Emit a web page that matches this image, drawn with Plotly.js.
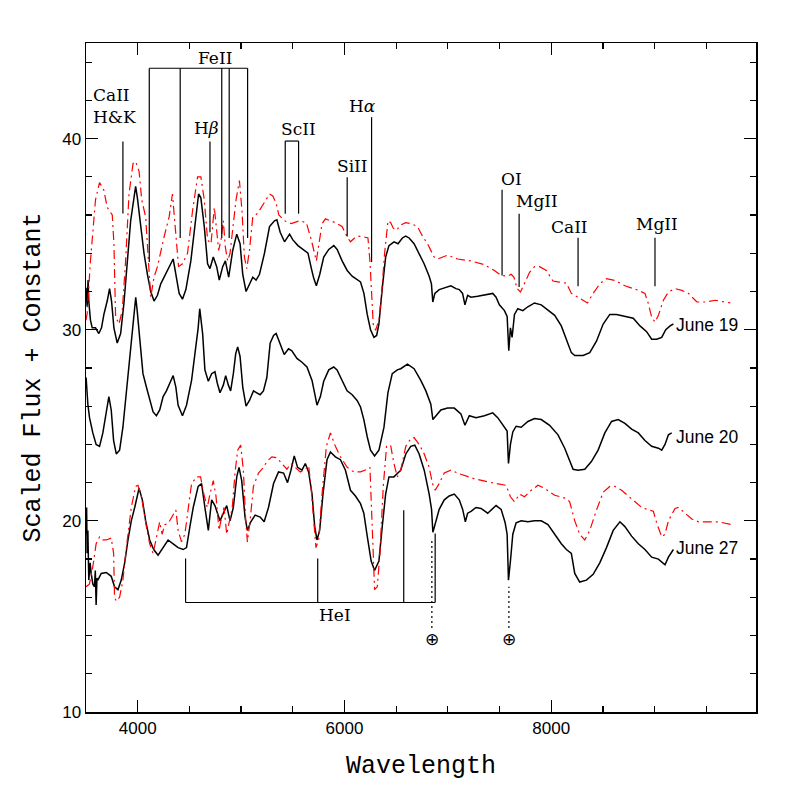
<!DOCTYPE html>
<html>
<head>
<meta charset="utf-8">
<script src="https://cdn.plot.ly/plotly-3.0.1.min.js"></script>
<style>
  html, body { margin: 0; padding: 0; background: #fff; }
  #chart { width: 797px; height: 797px; }
</style>
</head>
<body>
<div id="chart"></div>
<script>
// ---- spectra (wavelength, scaled flux + constant) ----
const june19Wave = [3500, 3511, 3520, 3527, 3543, 3560, 3592, 3624, 3650, 3673, 3705, 3728, 3747, 3770, 3802, 3835, 3867, 3899, 3932, 3964, 3980, 3997, 4029, 4061, 4094, 4126, 4158, 4191, 4223, 4272, 4320, 4343, 4369, 4401, 4433, 4466, 4514, 4556, 4589, 4611, 4644, 4676, 4699, 4731, 4764, 4789, 4822, 4848, 4880, 4919, 4958, 4990, 5016, 5048, 5081, 5113, 5145, 5178, 5226, 5275, 5323, 5346, 5378, 5420, 5469, 5501, 5550, 5598, 5647, 5680, 5702, 5728, 5761, 5799, 5848, 5897, 5929, 5977, 6026, 6074, 6123, 6155, 6188, 6220, 6252, 6285, 6311, 6333, 6366, 6398, 6430, 6479, 6518, 6560, 6592, 6625, 6673, 6722, 6770, 6819, 6841, 6854, 6874, 6916, 6964, 7029, 7078, 7110, 7142, 7165, 7191, 7223, 7288, 7353, 7434, 7466, 7498, 7547, 7573, 7589, 7605, 7621, 7644, 7676, 7725, 7773, 7838, 7903, 7968, 8033, 8097, 8146, 8194, 8227, 8308, 8372, 8437, 8502, 8566, 8631, 8712, 8793, 8858, 8922, 8971, 9019, 9068, 9107, 9149, 9181];
const june19Flux = [32.2, 31.2, 32.6, 31.5, 30.5, 30.1, 30.1, 29.8, 30.1, 30.8, 31.5, 32.15, 31.5, 30.1, 29.3, 29.8, 31.4, 33.6, 35.7, 36.9, 37.5, 36.9, 35.4, 34.0, 32.9, 32.0, 31.5, 31.8, 32.4, 32.9, 33.45, 33.7, 32.9, 31.9, 31.6, 32.1, 33.6, 35.7, 37.1, 36.9, 35.4, 33.45, 33.2, 33.8, 33.3, 32.6, 33.3, 33.6, 32.75, 34.15, 35.0, 34.5, 32.9, 32.0, 32.4, 32.75, 32.6, 32.9, 34.0, 35.4, 35.7, 35.75, 35.1, 34.6, 35.0, 34.7, 34.4, 34.2, 34.0, 33.2, 32.7, 32.3, 32.9, 33.8, 34.2, 34.4, 34.2, 33.6, 33.1, 32.8, 32.6, 32.5, 31.9, 30.8, 30.0, 29.6, 29.7, 30.3, 32.2, 33.8, 34.4, 34.6, 34.5, 34.8, 34.9, 34.8, 34.5, 34.0, 33.45, 32.8, 32.4, 31.45, 31.9, 32.1, 32.2, 32.3, 32.15, 32.1, 31.9, 31.3, 31.8, 31.7, 31.75, 31.8, 31.9, 31.7, 31.3, 31.0, 30.7, 28.9, 30.1, 29.6, 30.8, 31.1, 31.0, 31.2, 31.4, 31.3, 31.0, 30.75, 30.2, 29.45, 28.8, 28.65, 28.65, 28.8, 29.4, 30.3, 30.8, 30.8, 30.7, 30.6, 30.2, 29.9, 29.5, 29.5, 29.6, 30.0, 30.2, 30.3];

const june20Wave = [3501, 3518, 3534, 3566, 3598, 3631, 3663, 3696, 3721, 3744, 3767, 3793, 3825, 3857, 3890, 3922, 3954, 3970, 3981, 3995, 4013, 4030, 4051, 4084, 4116, 4149, 4181, 4213, 4246, 4278, 4310, 4343, 4369, 4391, 4433, 4472, 4521, 4553, 4585, 4600, 4628, 4650, 4683, 4715, 4747, 4770, 4796, 4828, 4851, 4877, 4899, 4925, 4948, 4967, 4990, 5016, 5048, 5081, 5120, 5152, 5184, 5216, 5249, 5281, 5314, 5339, 5378, 5417, 5459, 5491, 5540, 5589, 5637, 5686, 5718, 5734, 5767, 5799, 5848, 5896, 5928, 5977, 6025, 6074, 6122, 6155, 6187, 6220, 6252, 6291, 6333, 6382, 6420, 6462, 6511, 6544, 6609, 6673, 6738, 6787, 6835, 6855, 6884, 6932, 6997, 7062, 7126, 7165, 7207, 7272, 7353, 7434, 7482, 7531, 7573, 7586, 7605, 7628, 7660, 7709, 7774, 7838, 7903, 7984, 8065, 8130, 8178, 8211, 8259, 8324, 8388, 8453, 8518, 8583, 8647, 8712, 8777, 8842, 8906, 8971, 9036, 9068, 9100, 9133, 9165];
const june20Flux = [27.5, 26.1, 25.4, 24.6, 24.0, 23.9, 24.6, 25.8, 26.5, 25.8, 24.2, 23.5, 23.7, 24.9, 26.7, 28.75, 30.3, 31.3, 31.7, 31.0, 30.0, 28.8, 27.7, 27.0, 26.3, 25.7, 25.5, 25.8, 26.5, 26.8, 27.2, 27.6, 27.0, 26.05, 25.5, 26.05, 27.35, 28.75, 30.1, 31.1, 29.8, 27.9, 27.3, 27.7, 27.8, 27.2, 26.7, 27.1, 27.6, 27.1, 26.8, 27.7, 28.75, 29.1, 28.6, 27.0, 26.0, 26.3, 26.8, 26.7, 26.6, 26.8, 27.5, 29.3, 29.7, 29.8, 29.2, 28.7, 29.0, 28.9, 28.5, 28.3, 28.05, 27.35, 26.5, 26.05, 26.5, 27.3, 27.9, 28.05, 27.9, 27.3, 26.8, 26.6, 26.3, 25.96, 25.3, 24.4, 23.7, 23.4, 23.7, 24.9, 26.7, 27.7, 27.9, 27.96, 28.2, 27.96, 27.35, 26.8, 26.1, 25.3, 25.5, 25.8, 25.9, 25.9, 25.6, 25.0, 25.5, 25.4, 25.5, 25.65, 25.4, 25.0, 24.7, 23.0, 24.0, 24.65, 24.95, 24.9, 25.2, 25.35, 25.3, 25.0, 24.5, 23.8, 23.2, 22.7, 22.65, 22.7, 23.1, 23.7, 24.6, 25.2, 25.3, 25.1, 24.8, 24.6, 24.2, 23.9, 23.8, 23.7, 24.0, 24.5, 24.6];

const june27Wave = [3501, 3506, 3511, 3518, 3527, 3540, 3550, 3566, 3582, 3590, 3598, 3606, 3615, 3647, 3696, 3744, 3776, 3809, 3841, 3874, 3906, 3938, 3971, 4013, 4045, 4077, 4116, 4155, 4197, 4246, 4294, 4343, 4391, 4440, 4472, 4505, 4537, 4585, 4618, 4650, 4683, 4715, 4747, 4796, 4828, 4861, 4893, 4925, 4958, 4980, 5006, 5038, 5061, 5094, 5136, 5184, 5223, 5265, 5314, 5362, 5411, 5449, 5482, 5514, 5546, 5589, 5621, 5653, 5686, 5712, 5734, 5760, 5792, 5831, 5864, 5912, 5961, 6009, 6058, 6106, 6155, 6187, 6220, 6258, 6291, 6333, 6365, 6398, 6430, 6478, 6544, 6593, 6641, 6680, 6722, 6771, 6819, 6842, 6855, 6884, 6916, 6965, 7013, 7062, 7110, 7143, 7169, 7191, 7224, 7272, 7321, 7385, 7466, 7515, 7554, 7573, 7586, 7605, 7628, 7660, 7709, 7774, 7838, 7903, 7968, 8033, 8097, 8146, 8194, 8227, 8275, 8340, 8405, 8469, 8534, 8599, 8664, 8712, 8777, 8842, 8906, 8971, 9036, 9100, 9133, 9181];
const june27Flux = [19.3, 20.7, 18.3, 19.5, 16.9, 17.8, 17.25, 16.7, 16.55, 17.4, 15.6, 17.0, 16.9, 17.25, 17.3, 17.1, 16.55, 16.4, 16.9, 17.8, 19.0, 20.0, 20.7, 21.7, 21.1, 20.0, 19.0, 18.5, 18.2, 18.6, 19.0, 18.8, 18.6, 18.5, 18.6, 19.7, 20.7, 21.8, 21.95, 20.7, 19.5, 21.1, 20.8, 20.0, 20.4, 20.8, 20.0, 20.7, 22.3, 22.8, 22.1, 20.2, 19.5, 19.95, 20.3, 20.2, 19.95, 20.7, 21.95, 22.56, 22.5, 22.0, 22.65, 23.4, 22.8, 22.65, 23.0, 22.56, 21.4, 19.7, 19.0, 19.5, 21.4, 23.2, 23.6, 23.35, 23.2, 22.65, 21.6, 21.3, 20.9, 20.4, 19.2, 17.9, 17.4, 17.9, 19.7, 21.4, 22.3, 22.3, 22.65, 23.5, 23.9, 23.96, 23.5, 22.65, 21.4, 20.6, 19.4, 20.0, 20.6, 21.1, 21.3, 21.4, 21.1, 20.6, 19.95, 20.4, 20.5, 20.7, 20.65, 20.4, 20.8, 20.6, 19.9, 19.3, 16.9, 17.9, 19.3, 19.9, 20.0, 19.95, 20.0, 20.0, 19.8, 19.3, 18.8, 18.5, 18.3, 17.25, 16.8, 16.9, 17.2, 17.8, 18.6, 19.5, 19.95, 19.7, 19.2, 18.8, 18.5, 18.1, 18.0, 17.7, 18.1, 18.5];

// ---- model spectra (red dash-dot) ----
const model19Wave = [3500, 3511, 3543, 3592, 3631, 3673, 3705, 3754, 3770, 3786, 3819, 3851, 3883, 3916, 3955, 3980, 4013, 4039, 4077, 4103, 4126, 4158, 4191, 4255, 4304, 4336, 4362, 4395, 4433, 4482, 4530, 4579, 4611, 4644, 4676, 4709, 4741, 4757, 4783, 4806, 4828, 4848, 4870, 4893, 4919, 4951, 4984, 5009, 5032, 5055, 5081, 5113, 5162, 5210, 5275, 5307, 5340, 5365, 5420, 5485, 5566, 5631, 5679, 5728, 5751, 5783, 5816, 5913, 5977, 6026, 6058, 6107, 6155, 6227, 6246, 6259, 6278, 6301, 6333, 6359, 6388, 6421, 6447, 6473, 6505, 6537, 6592, 6641, 6706, 6754, 6803, 6867, 6900, 6997, 7094, 7223, 7353, 7450, 7515, 7579, 7612, 7638, 7670, 7702, 7741, 7790, 7838, 7887, 7952, 8016, 8065, 8146, 8194, 8259, 8308, 8350, 8405, 8469, 8534, 8615, 8712, 8842, 8906, 8939, 8971, 9003, 9036, 9084, 9133, 9197, 9262, 9327, 9408, 9489, 9586, 9731];
const model19Flux = [30.5, 30.84, 33.6, 36.8, 37.7, 37.3, 36.4, 36.0, 34.5, 30.7, 30.3, 31.0, 33.6, 37.1, 38.7, 38.8, 38.3, 36.8, 35.9, 33.6, 31.7, 32.75, 33.3, 34.85, 35.9, 37.1, 35.4, 33.3, 33.45, 34.0, 36.2, 38.0, 38.0, 36.8, 34.7, 34.5, 36.4, 35.4, 34.15, 34.7, 35.7, 34.3, 33.6, 34.0, 35.2, 36.8, 37.8, 36.2, 33.8, 33.2, 34.15, 35.9, 36.1, 36.5, 37.1, 37.0, 36.6, 36.0, 35.7, 35.55, 35.7, 35.6, 34.7, 33.6, 34.5, 35.55, 35.8, 35.6, 35.4, 34.85, 34.6, 34.85, 34.9, 34.8, 33.6, 31.9, 30.3, 29.97, 30.5, 31.9, 34.0, 35.7, 35.6, 35.3, 35.2, 35.46, 35.6, 35.55, 35.4, 34.9, 34.5, 33.8, 33.7, 33.9, 33.7, 33.6, 33.4, 33.1, 32.84, 32.8, 32.9, 32.76, 32.15, 31.97, 32.4, 33.0, 33.3, 33.3, 33.1, 32.55, 32.5, 32.44, 31.9, 31.7, 31.54, 31.4, 31.9, 32.4, 32.67, 32.58, 32.3, 32.06, 31.9, 31.36, 30.66, 30.4, 30.75, 31.54, 31.97, 32.15, 32.06, 31.9, 31.45, 31.45, 31.54, 31.4];

const model27Wave = [3501, 3534, 3566, 3598, 3631, 3663, 3696, 3744, 3767, 3776, 3793, 3825, 3857, 3890, 3938, 3980, 4003, 4035, 4084, 4116, 4149, 4181, 4213, 4236, 4262, 4294, 4327, 4369, 4391, 4424, 4456, 4488, 4521, 4569, 4608, 4640, 4673, 4699, 4731, 4757, 4786, 4812, 4835, 4861, 4886, 4915, 4941, 4967, 4996, 5022, 5045, 5061, 5087, 5119, 5168, 5216, 5249, 5297, 5346, 5394, 5443, 5482, 5524, 5572, 5621, 5653, 5676, 5702, 5724, 5750, 5783, 5825, 5864, 5912, 5961, 6026, 6090, 6155, 6220, 6246, 6258, 6278, 6291, 6317, 6343, 6375, 6407, 6446, 6478, 6511, 6544, 6593, 6641, 6673, 6722, 6771, 6819, 6851, 6877, 6916, 6965, 7029, 7126, 7256, 7385, 7499, 7563, 7605, 7644, 7693, 7741, 7806, 7871, 7936, 8033, 8146, 8178, 8227, 8275, 8324, 8372, 8437, 8502, 8566, 8615, 8680, 8777, 8874, 8987, 9019, 9068, 9100, 9133, 9197, 9230, 9295, 9359, 9424, 9521, 9618, 9747];
const model27Flux = [16.55, 16.7, 17.6, 18.8, 19.16, 19.0, 19.0, 19.1, 18.3, 16.0, 15.8, 16.0, 16.9, 18.6, 20.7, 21.8, 21.86, 21.3, 19.7, 18.8, 18.3, 19.16, 19.95, 19.3, 19.8, 19.86, 20.2, 20.56, 19.5, 18.9, 19.3, 20.56, 21.95, 22.3, 22.3, 21.4, 20.7, 21.4, 22.1, 21.3, 19.5, 20.2, 20.7, 19.3, 20.0, 20.7, 22.5, 23.7, 23.96, 22.65, 20.0, 18.9, 20.0, 21.8, 22.5, 22.8, 23.1, 23.35, 23.3, 23.0, 22.7, 23.0, 22.8, 22.56, 22.7, 22.9, 21.8, 19.9, 18.6, 19.0, 21.4, 23.9, 24.6, 23.9, 23.35, 22.8, 22.56, 22.56, 22.7, 22.8, 21.4, 18.3, 16.4, 16.55, 18.3, 21.8, 23.9, 23.96, 23.0, 22.3, 22.65, 23.9, 24.3, 24.36, 24.0, 23.5, 22.8, 21.95, 21.6, 21.95, 22.5, 22.65, 22.44, 22.2, 22.04, 21.95, 21.86, 21.26, 21.0, 21.4, 21.26, 21.6, 21.86, 21.7, 21.34, 21.17, 21.0, 20.0, 19.3, 19.0, 19.5, 20.56, 21.5, 21.8, 21.8, 21.6, 21.17, 20.7, 20.5, 19.9, 19.16, 19.3, 20.0, 20.65, 20.7, 20.4, 20.1, 19.95, 19.95, 19.95, 19.8];

// ---- epoch labels ----
const epochNames = ['June 19', 'June 20', 'June 27'];
const epochLabelWave = [9184, 9184, 9184];
const epochLabelFlux = [30.23, 24.38, 18.56];

// ---- line identifications ----
const ionNames = ['CaII<br>H&K', 'FeII', 'H<i>β</i>', 'ScII', 'SiII', 'H<i>α</i>', 'OI', 'MgII', 'CaII', 'MgII', 'HeI'];
const ionLabelWave = [3548, 4752, 4670, 5553, 6078, 6175, 7611, 7864, 8180, 9019, 5913];
const ionLabelFlux = [41.7, 44.24, 40.53, 40.48, 38.54, 41.68, 37.91, 36.76, 35.4, 35.51, 15.07];

const markWave = [3857, 4112, 4411, 4813, 4885, 5063, 4699, 5427, 5556, 6026, 6262, 7524, 7689, 8259, 9003, 4463, 5741, 6573, 6877];
const markTop = [39.85, 43.68, 43.68, 43.68, 43.68, 43.68, 39.85, 39.87, 39.87, 37.98, 41.12, 37.32, 36.07, 34.81, 34.81, 15.73, 15.73, 15.73, 15.73];
const markBottom = [36.08, 33.54, 34.8, 34.8, 34.8, 34.8, 35.1, 36.07, 36.07, 34.88, 33.54, 32.84, 32.23, 32.27, 32.27, 18.03, 18.03, 20.56, 19.34];

const bracketFrom = [4112, 5427, 4463];
const bracketTo = [5063, 5556, 6877];
const bracketLevel = [43.68, 39.87, 15.73];

// telluric bands
const tellWave = [6845, 7590];
const tellTop = [18.99, 16.55];
const tellBottom = 14.39;
const tellSymbolFlux = 13.82;

const spectrum = (x, y) => ({
    x: x, y: y, mode: 'lines', type: 'scatter', hoverinfo: 'skip',
    line: {color: '#000', width: 1.5}
});
const model = (x, y) => ({
    x: x, y: y, mode: 'lines', type: 'scatter', hoverinfo: 'skip',
    line: {color: '#ff0000', width: 1.2, dash: '9px,4px,2px,4px'}
});

const traces = [
    spectrum(june19Wave, june19Flux),
    spectrum(june20Wave, june20Flux),
    spectrum(june27Wave, june27Flux),
    model(model19Wave, model19Flux),
    model(model27Wave, model27Flux)
];

const segLine = {color: '#000', width: 1.2};
const shapes = [];
markWave.forEach((w, i) => shapes.push({
    type: 'line', xref: 'x', yref: 'y', x0: w, x1: w,
    y0: markBottom[i], y1: markTop[i], line: segLine
}));
bracketFrom.forEach((w, i) => shapes.push({
    type: 'line', xref: 'x', yref: 'y', x0: w, x1: bracketTo[i],
    y0: bracketLevel[i], y1: bracketLevel[i], line: segLine
}));
tellWave.forEach((w, i) => shapes.push({
    type: 'line', xref: 'x', yref: 'y', x0: w, x1: w,
    y0: tellBottom, y1: tellTop[i], line: {color: '#000', width: 1.2, dash: '2px,3px'}
}));

const serif = {family: 'DejaVu Serif', size: 17, color: '#000'};
const annotations = [];
ionNames.forEach((t, i) => annotations.push({
    xref: 'x', yref: 'y', x: ionLabelWave[i], y: ionLabelFlux[i], text: t,
    showarrow: false, font: serif,
    xanchor: i === 0 ? 'left' : 'center', align: 'left', yanchor: 'middle'
}));
tellWave.forEach(w => annotations.push({
    xref: 'x', yref: 'y', x: w, y: tellSymbolFlux, text: '⊕',
    showarrow: false, font: {family: 'DejaVu Sans', size: 17, color: '#000'}
}));
epochNames.forEach((t, i) => annotations.push({
    xref: 'x', yref: 'y', x: epochLabelWave[i], y: epochLabelFlux[i], text: t,
    showarrow: false, xanchor: 'left', yanchor: 'middle',
    font: {family: 'Liberation Sans', size: 17.5, color: '#000'}
}));

const axisBase = {
    showline: true, linecolor: '#000', linewidth: 1.5, mirror: 'allticks',
    ticks: 'inside', ticklen: 12, tickwidth: 1.2, tickcolor: '#000',
    showgrid: false, zeroline: false, tickformat: 'd',
    tickfont: {family: 'Liberation Sans', size: 17, color: '#000'}
};

const layout = {
    width: 797, height: 797, autosize: false,
    paper_bgcolor: '#fff', plot_bgcolor: '#fff',
    showlegend: false,
    margin: {l: 86, r: 41, t: 43, b: 85},
    xaxis: Object.assign({}, axisBase, {
        range: [3500, 9980], tick0: 4000, dtick: 2000,
        minor: {dtick: 500, tick0: 0, ticks: 'inside', ticklen: 6, tickcolor: '#000', tickwidth: 1.2},
        title: {text: 'Wavelength', font: {family: 'Liberation Mono', size: 25, color: '#000'}, standoff: 18}
    }),
    yaxis: Object.assign({}, axisBase, {
        range: [10, 45], tick0: 10, dtick: 10,
        minor: {dtick: 2, tick0: 10, ticks: 'inside', ticklen: 6, tickcolor: '#000', tickwidth: 1.2},
        title: {text: 'Scaled Flux + Constant', font: {family: 'Liberation Mono', size: 25, color: '#000'}, standoff: 14}
    }),
    shapes: shapes,
    annotations: annotations
};

Plotly.newPlot('chart', traces, layout, {displayModeBar: false, staticPlot: true});
</script>
</body>
</html>
